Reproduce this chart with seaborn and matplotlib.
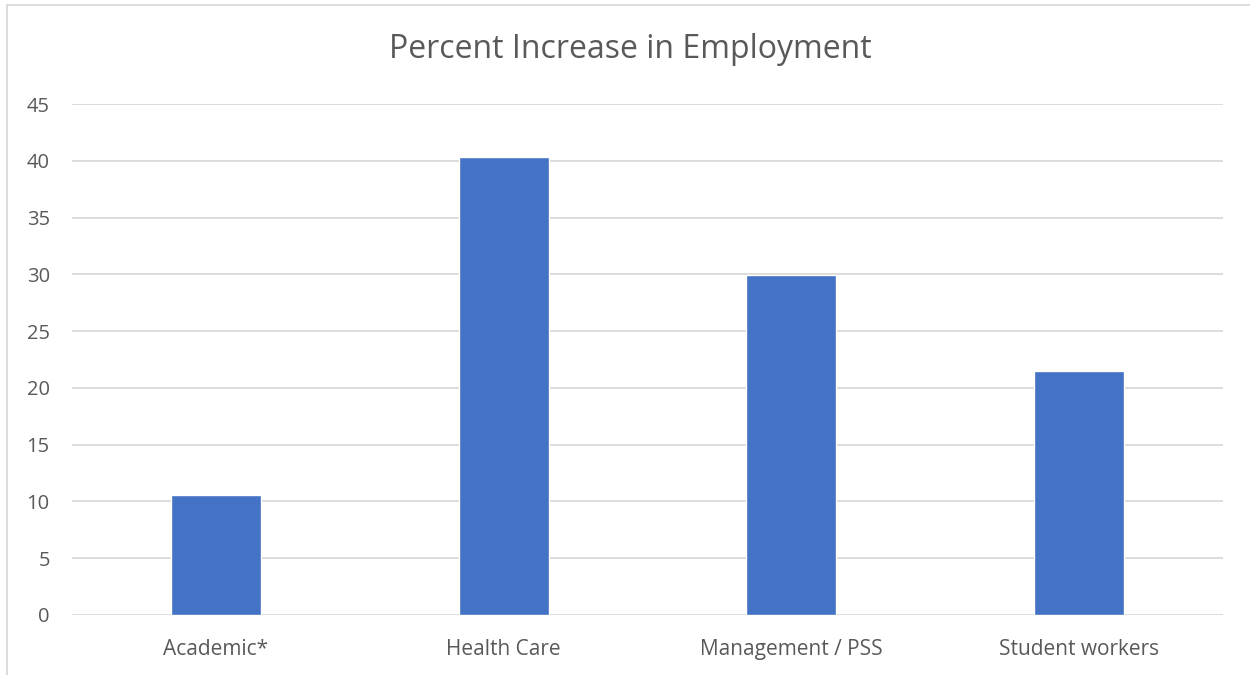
import pandas as pd
import seaborn as sns
import matplotlib.pyplot as plt
from matplotlib.lines import Line2D

# values
categories = ['Academic*', 'Health Care', 'Management / PSS', 'Student workers']
pct_increase = [10.6, 40.3, 29.9, 21.5]

df = pd.DataFrame({'category': categories, 'value': pct_increase})

sns.set_style("white")
plt.rcParams['font.family'] = ['Open Sans', 'DejaVu Sans']

fig = plt.figure(figsize=(12.5, 6.75), dpi=100)
ax = fig.add_axes([72 / 1250, 1 - 615 / 675, (1223 - 72) / 1250, (615 - 104) / 675])

sns.barplot(data=df, x='category', y='value', color='#4472C4', width=0.3125,
            saturation=1, ax=ax, zorder=3)

ax.set_xlim(-0.5, 3.5)
ax.set_ylim(0, 45)
ax.set_yticks(range(0, 46, 5))
ax.grid(axis='y', color='#D9D9D9', linewidth=1.3, zorder=0)
ax.grid(axis='x', visible=False)
for s in ax.spines.values():
    s.set_visible(False)

ax.tick_params(axis='y', length=0, pad=16, labelsize=14.5, labelcolor='#595959')
ax.tick_params(axis='x', length=0, pad=17, labelsize=15, labelcolor='#595959')
ax.set_xlabel('')
ax.set_ylabel('')

fig.text(0.504, 1 - 50 / 675, 'Percent Increase in Employment', ha='center', va='center',
         fontsize=23, color='#595959')

# chart area border
fig.add_artist(Line2D([7 / 1250, 1], [1 - 5 / 675, 1 - 5 / 675], color='#D9D9D9', linewidth=1.3))
fig.add_artist(Line2D([7 / 1250, 7 / 1250], [0, 1 - 5 / 675], color='#D9D9D9', linewidth=1.3))

plt.savefig('out.png', dpi=100)
plt.close()
